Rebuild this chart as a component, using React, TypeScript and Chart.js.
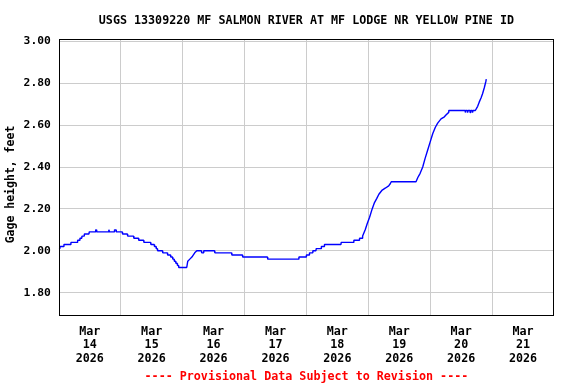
import React, { useEffect, useRef } from "react";
import { Chart, registerables } from "chart.js";

Chart.register(...registerables);

const TITLE = "USGS 13309220 MF SALMON RIVER AT MF LODGE NR YELLOW PINE ID";
const FOOTER = "---- Provisional Data Subject to Revision ----";
const Y_TITLE = "Gage height, feet";
const MONTH = "Mar";
const YEAR = "2026";
const FIRST_DAY = 14;
const NUM_DAYS = 8;
const Y_TICKS = [1.8, 2.0, 2.2, 2.4, 2.6, 2.8, 3.0];
const Y_MIN = 1.6885;
const Y_MAX = 3.0115;

// hours since Mar 14 00:00
const HOURS = [
  0, 0.4, 0.5, 1.9, 2.0, 4.6, 4.7, 7.2, 7.3, 8.1, 8.2, 8.9, 9.0, 9.8, 9.9, 11.7, 11.8,
  14.2, 14.3, 14.6, 14.7, 19.3, 19.4, 19.7, 21.5, 21.6, 22.2, 22.3, 24.6, 24.7, 26.6,
  26.7, 29.0, 29.1, 30.9, 31.0, 32.9, 33.0, 35.6, 35.7, 37.0, 37.1, 37.7, 37.8, 38.2,
  38.3, 40.2, 40.3, 42.1, 42.2, 43.3, 43.4, 44.1, 44.2, 44.7, 44.8, 45.3, 45.4, 45.9,
  46.0, 46.4, 46.5, 49.6, 50.0, 50.8, 51.6, 52.7, 53.5, 55.3, 55.4, 56.1, 56.2, 60.4,
  60.5, 67.0, 67.1, 71.2, 71.3, 80.9, 81.0, 93.0, 93.1, 95.9, 96.0, 97.1, 97.2, 98.4,
  98.5, 99.7, 99.8, 101.7, 101.8, 102.9, 103.0, 109.4, 109.5, 114.3, 114.4, 116.5,
  116.6, 117.7, 117.8, 118.8, 119.6, 120.5, 121.5, 122.4, 123.3, 124.1, 125.4, 126.7,
  127.9, 128.5, 128.9, 138.5, 139.2, 140.1, 141.1, 142.0, 143.0, 144.0, 145.0, 146.0,
  146.9, 148.2, 149.5, 150.2, 151.1, 151.2, 157.5, 157.6, 157.8, 158.4, 158.5, 158.7,
  159.4, 159.5, 159.7, 160.3, 160.4, 160.6, 161.5, 162.4, 163.0, 163.7, 164.3, 165.0,
  165.6, 165.75,
];

const GAGE = [
  2.01, 2.01, 2.02, 2.02, 2.03, 2.03, 2.04, 2.04, 2.05, 2.05, 2.06, 2.06, 2.07, 2.07, 2.08, 2.08, 2.09,
  2.09, 2.1, 2.1, 2.09, 2.09, 2.1, 2.09, 2.09, 2.1, 2.1, 2.09, 2.09, 2.08, 2.08,
  2.07, 2.07, 2.06, 2.06, 2.05, 2.05, 2.04, 2.04, 2.03, 2.03, 2.02, 2.02, 2.01, 2.01,
  2.0, 2.0, 1.99, 1.99, 1.98, 1.98, 1.97, 1.97, 1.96, 1.96, 1.95, 1.95, 1.94, 1.94,
  1.93, 1.93, 1.92, 1.92, 1.95, 1.96, 1.97, 1.99, 2.0, 2.0, 1.99, 1.99, 2.0, 2.0,
  1.99, 1.99, 1.98, 1.98, 1.97, 1.97, 1.96, 1.96, 1.97, 1.97, 1.98, 1.98, 1.99, 1.99,
  2.0, 2.0, 2.01, 2.01, 2.02, 2.02, 2.03, 2.03, 2.04, 2.04, 2.05, 2.05,
  2.06, 2.06, 2.07, 2.1, 2.13, 2.16, 2.2, 2.23, 2.25, 2.27, 2.29, 2.3,
  2.31, 2.32, 2.33, 2.33, 2.35, 2.37, 2.4, 2.44, 2.48, 2.52, 2.56, 2.59,
  2.61, 2.63, 2.64, 2.65, 2.66, 2.67, 2.67, 2.66, 2.67, 2.67, 2.66, 2.67,
  2.67, 2.66, 2.67, 2.67, 2.66, 2.67, 2.67, 2.69, 2.71, 2.73, 2.75, 2.78,
  2.81, 2.82,
];

const FONT = "'DejaVu Sans Mono', 'Liberation Mono', monospace";

export default function App() {
  const ref = useRef<HTMLCanvasElement | null>(null);

  useEffect(() => {
    if (!ref.current) return;
    const frame = {
      id: "frame",
      afterDatasetsDraw(chart: any) {
        const { ctx, chartArea } = chart;
        ctx.save();
        ctx.strokeStyle = "#000";
        ctx.lineWidth = 1;
        const l = Math.round(chartArea.left) + 0.5;
        const t = Math.round(chartArea.top) + 0.5;
        const r = Math.round(chartArea.right) - 0.5;
        const b = Math.round(chartArea.bottom) - 0.5;
        ctx.strokeRect(l, t, r - l, b - t);
        ctx.restore();
      },
      afterDraw(chart: any) {
        const { ctx } = chart;
        ctx.save();
        ctx.translate(11.5, 184.5);
        ctx.rotate(-Math.PI / 2);
        ctx.fillStyle = "#000";
        ctx.font = "bold 11.5px " + FONT;
        ctx.textAlign = "center";
        ctx.textBaseline = "middle";
        ctx.fillText(Y_TITLE, 0, 0);
        ctx.restore();
      },
    };
    const chart = new Chart(ref.current, {
      type: "line",
      data: {
        datasets: [
          {
            data: HOURS.map((h, i) => ({ x: h, y: GAGE[i] })),
            borderColor: "#0000ff",
            borderWidth: 1.4,
            borderJoinStyle: "bevel",
            pointRadius: 0,
            fill: false,
            tension: 0,
          },
        ],
      },
      options: {
        responsive: false,
        animation: false,
        events: [],
        layout: { padding: { left: 0, right: 22, top: 0, bottom: 0 } },
        plugins: {
          legend: { display: false },
          tooltip: { enabled: false },
          title: {
            display: true,
            text: TITLE,
            color: "#000",
            fullSize: false,
            font: { family: FONT, size: 11.7, weight: "bold", lineHeight: 1.2 },
            padding: { top: 14, bottom: 11 },
          },
          subtitle: {
            display: true,
            position: "bottom",
            text: FOOTER,
            color: "#ff0000",
            fullSize: false,
            font: { family: FONT, size: 11.7, weight: "bold", lineHeight: 1.2 },
            padding: { top: 5, bottom: 0 },
          },
        },
        scales: {
          x: {
            type: "linear",
            min: 0,
            max: NUM_DAYS * 24,
            afterBuildTicks: (scale: any) => {
              const t = [];
              for (let v = 0; v <= NUM_DAYS * 24; v += 12) t.push({ value: v });
              scale.ticks = t;
            },
            afterFit: (scale: any) => {
              scale.height = 49;
            },
            border: { display: false },
            grid: {
              drawTicks: false,
              lineWidth: 1,
              color: (c: any) => {
                const v = c.tick ? c.tick.value : 0;
                return v % 24 === 0 && v > 0 && v < NUM_DAYS * 24 ? "#cccccc" : "rgba(0,0,0,0)";
              },
            },
            ticks: {
              autoSkip: false,
              maxRotation: 0,
              minRotation: 0,
              padding: 9,
              color: "#000",
              font: { family: FONT, size: 11.7, weight: "bold", lineHeight: 1.15 },
              callback: (value: any) => {
                const v = Number(value);
                if (v % 24 !== 12) return "";
                return [MONTH, String(FIRST_DAY + (v - 12) / 24), YEAR];
              },
            },
          },
          y: {
            type: "linear",
            min: Y_MIN,
            max: Y_MAX,
            afterBuildTicks: (scale: any) => {
              scale.ticks = Y_TICKS.map((v) => ({ value: v }));
            },
            afterFit: (scale: any) => {
              scale.width = 58.8;
            },
            border: { display: false },
            grid: { drawTicks: false, color: "#cccccc", lineWidth: 1 },
            title: { display: false },
            ticks: {
              padding: 8,
              color: "#000",
              font: { family: FONT, size: 11.3, weight: "bold" },
              callback: (value: any) => Number(value).toFixed(2),
            },
          },
        },
      },
      plugins: [frame],
    } as any);
    return () => chart.destroy();
  }, []);

  return (
    <div style={{ position: "fixed", left: 0, top: 0, width: 576, height: 384, background: "#fff" }}>
      <canvas ref={ref} width={576} height={384} style={{ display: "block" }} />
    </div>
  );
}
